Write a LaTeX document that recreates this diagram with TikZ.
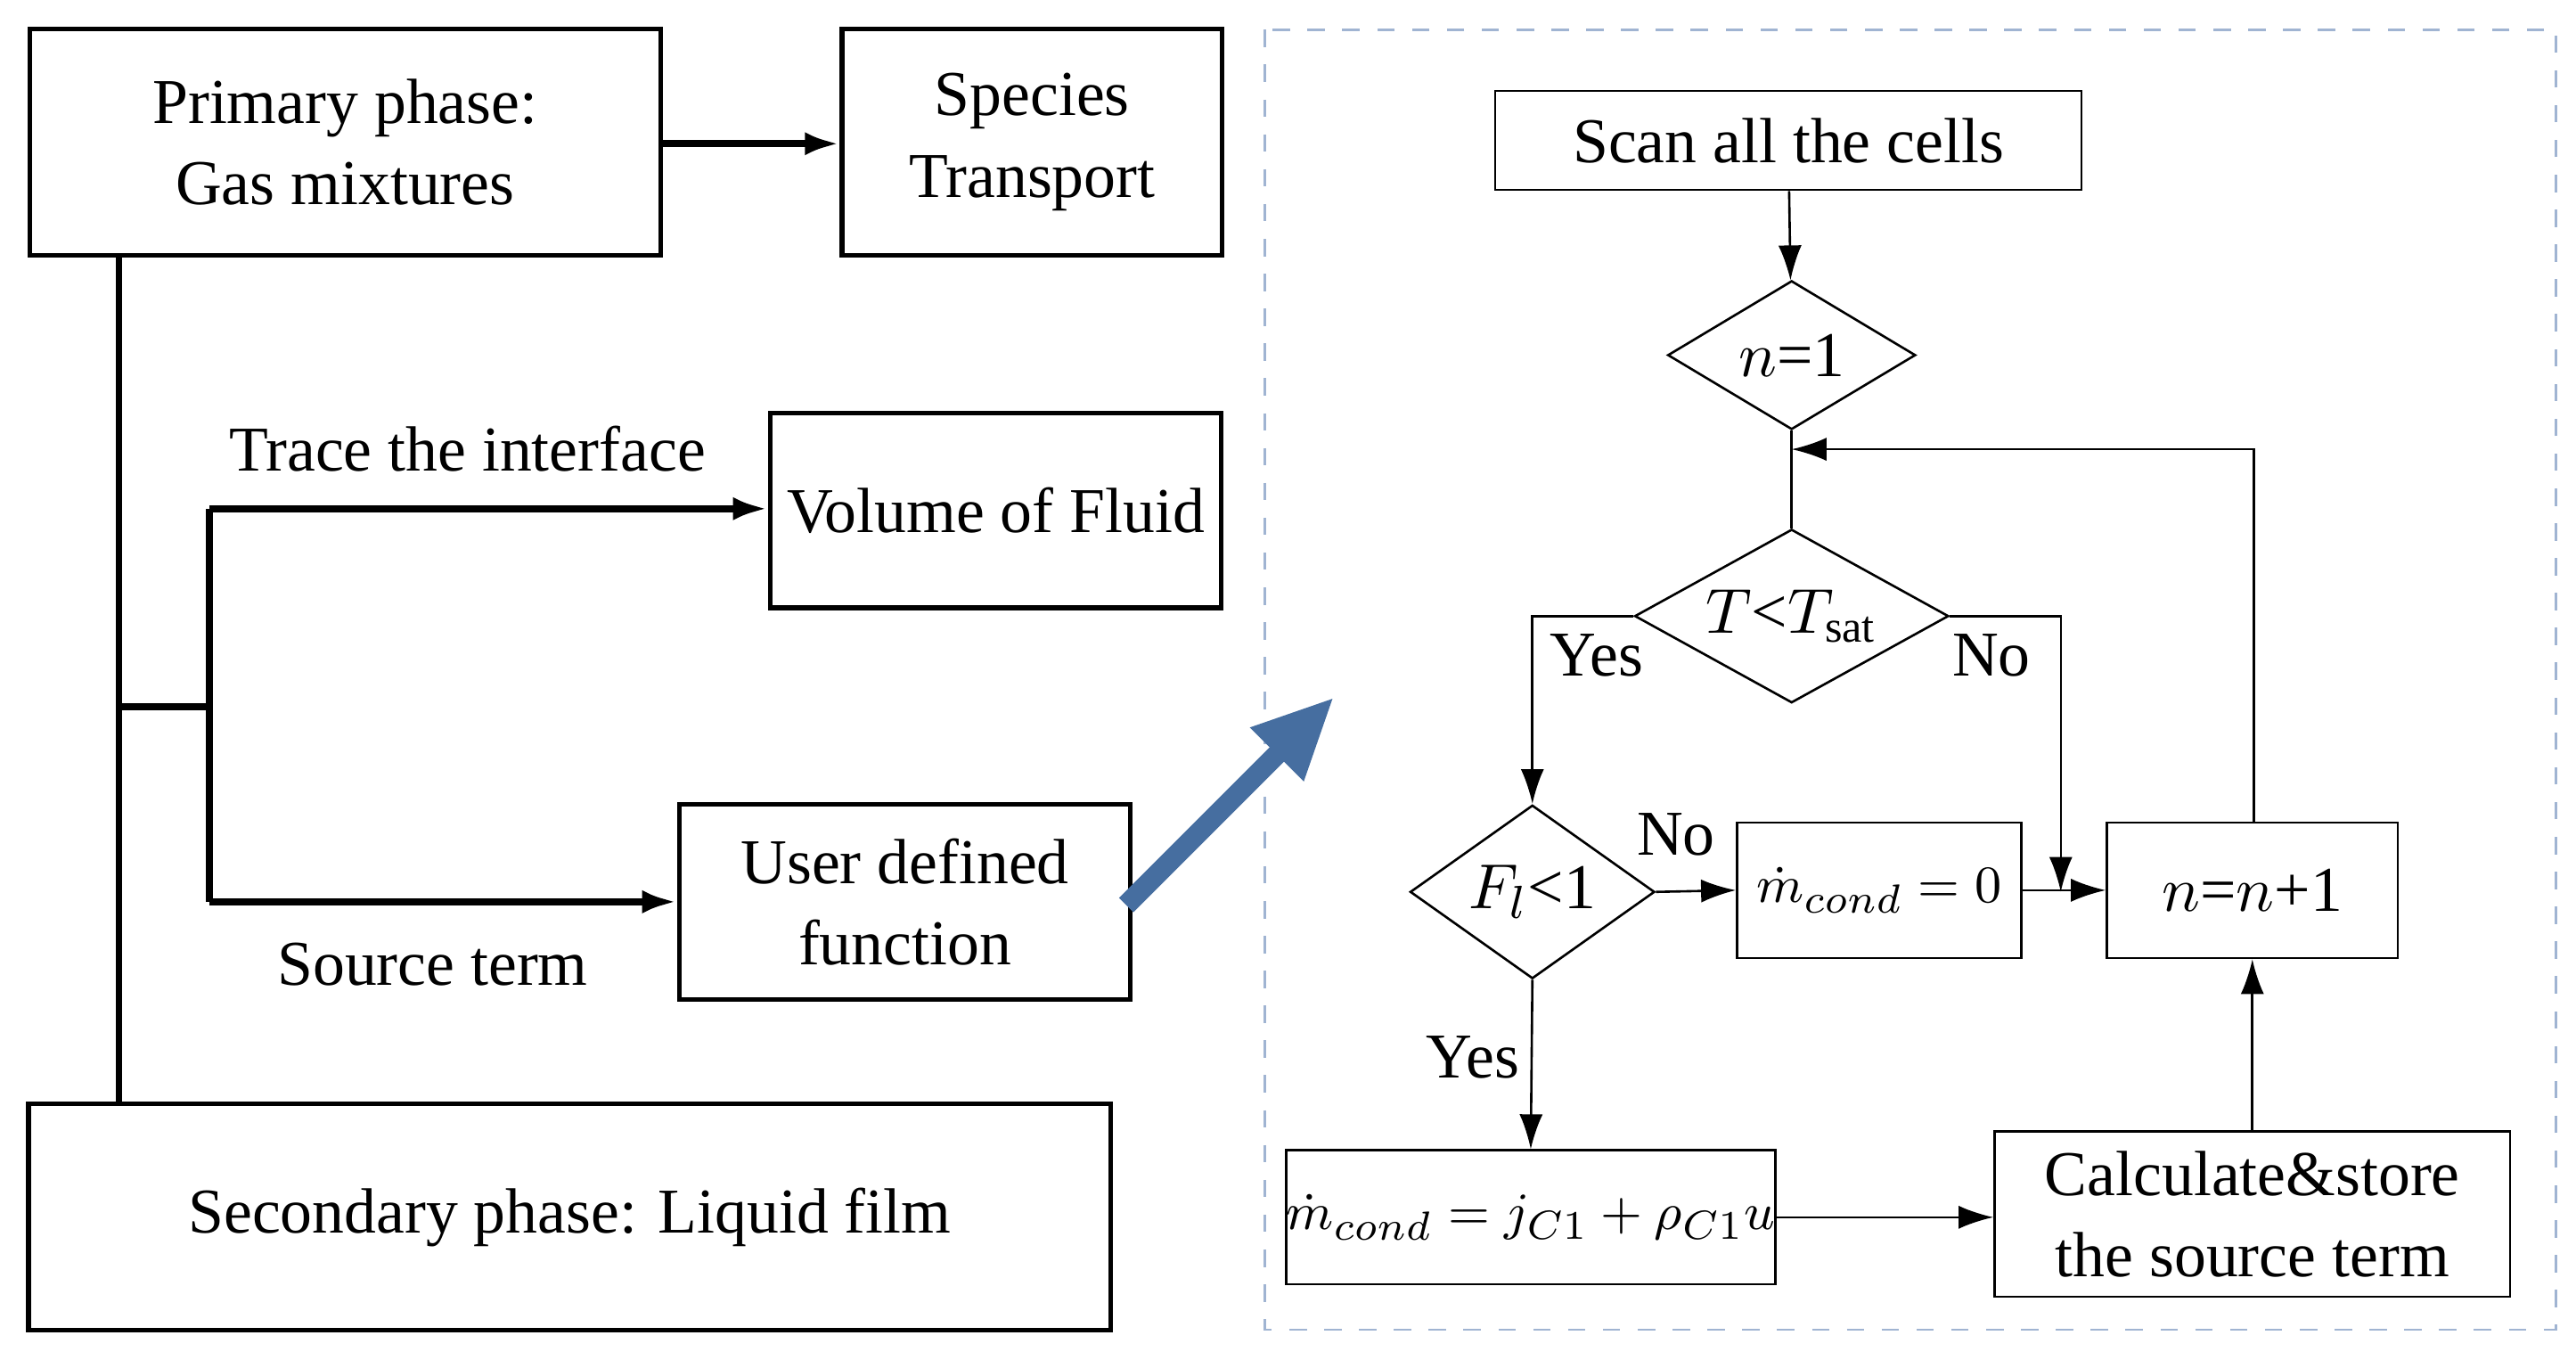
\documentclass[tikz,border=0pt]{standalone}
\usepackage{fontspec}
\setmainfont{Liberation Serif}
\usetikzlibrary{arrows.meta,shapes.geometric}
\begin{document}
\begin{tikzpicture}[x=0.01cm,y=-0.01cm,
  box/.style={draw,thick,inner sep=0,align=center},
  dia/.style={draw,thin,diamond,inner sep=-1pt},
  txt/.style={inner sep=0},
  arr/.style={-{Latex[length=6pt,width=4pt]}},
  ln/.style={line width=1.2pt},
  every node/.style={font=\fontsize{11}{14}\selectfont}]
\useasboundingbox (0,0) rectangle (1560,823);
\draw[dashed,color={rgb,255:red,160;green,180;blue,210}] (766,18) rectangle (1548,805);
% left
\node[box,minimum width=3.82cm,minimum height=1.37cm] (prim) at (209,86) {Primary phase:\\Gas mixtures};
\node[box,minimum width=2.30cm,minimum height=1.37cm] (spec) at (625,86) {Species\\Transport};
\node[box,minimum width=2.73cm,minimum height=1.18cm] (vof) at (603,309) {Volume of Fluid};
\node[box,minimum width=2.73cm,minimum height=1.18cm] (udf) at (548,546) {User defined\\function};
\node[box,minimum width=6.55cm,minimum height=1.37cm] (sec) at (345,737) {Secondary phase: Liquid film};
\coordinate (a1) at (72,155); \coordinate (a2) at (72,668);
\coordinate (b0) at (72,428); \coordinate (b1) at (127,428);
\coordinate (c1) at (127,308); \coordinate (c2) at (127,546);
\draw[ln,arr] (prim.east|-0,87) -- (spec.west|-0,87);
\draw[ln] (a1) -- (a2);
\draw[ln] (b0) -- (b1);
\draw[ln] (c1) -- (c2);
\draw[ln,arr] (c1) -- (c1-|vof.west);
\draw[ln,arr] (c2) -- (c2-|udf.west);
\node[txt] (tl) at (283,272) {Trace the interface};
\node[txt] (sl) at (262,584) {Source term};
\coordinate (bl1) at (682,548); \coordinate (bl2) at (808,422);
\draw[line width=3.5pt,color={rgb,255:red,70;green,110;blue,160},-{Triangle[length=14pt,width=12pt]}] (bl1) -- (bl2);
% right
\node[box,thin,minimum width=3.55cm,minimum height=0.60cm] (scan) at (1083,85) {Scan all the cells};
\node[dia,minimum width=1.50cm,minimum height=0.90cm] (n1) at (1085,215) {$n$=1};
\node[dia,aspect=1.8,inner sep=-3pt,minimum width=1.90cm,minimum height=1.05cm] (t) at (1085,373) {$T$<$T_{\mathrm{sat}}$};
\node[dia,minimum width=1.48cm,minimum height=1.05cm] (f) at (928,540) {$F_l$<1};
\node[box,thin,minimum width=1.72cm,minimum height=0.82cm,font=\fontsize{9.5}{12}\selectfont] (m0) at (1138,539) {$\dot m_{cond}=0$};
\node[box,thin,minimum width=1.76cm,minimum height=0.82cm] (nn) at (1364,539) {$n$=$n$+1};
\node[box,thin,minimum width=2.59cm,minimum height=0.81cm,font=\fontsize{9.5}{12}\selectfont] (mc) at (927,737) {$\dot m_{cond}=j_{C1}+\rho_{C1}u$};
\node[box,thin,minimum width=3.12cm,minimum height=1.00cm] (calc) at (1364,735) {Calculate\&store\\the source term};
\coordinate (lp) at (1085,272); \coordinate (lc) at (1365,272);
\coordinate (ny) at (928,373); \coordinate (nr) at (1248,373); \coordinate (ne) at (1248,540);
\draw[arr] (scan) -- (n1);
\draw (n1) -- (t);
\draw[arr] (nn.north-|lc) -- (lc) -- (lp);
\draw[arr] (t.west) -- (ny) -- (f.north);
\draw[arr] (t.east) -- (nr) -- (ne);
\draw[arr] (f.east) -- (m0.west);
\draw[arr] (m0.east) -- (nn.west);
\draw[arr] (f.south) -- (mc.north);
\draw[arr] (mc.east) -- (mc.east-|calc.west);
\draw[arr] (calc.north) -- (nn.south);
\node[txt] (y1) at (967,397) {Yes};
\node[txt] (no1) at (1206,397) {No};
\node[txt] (no2) at (1015,505) {No};
\node[txt] (y2) at (892,640) {Yes};
\end{tikzpicture}
\end{document}
